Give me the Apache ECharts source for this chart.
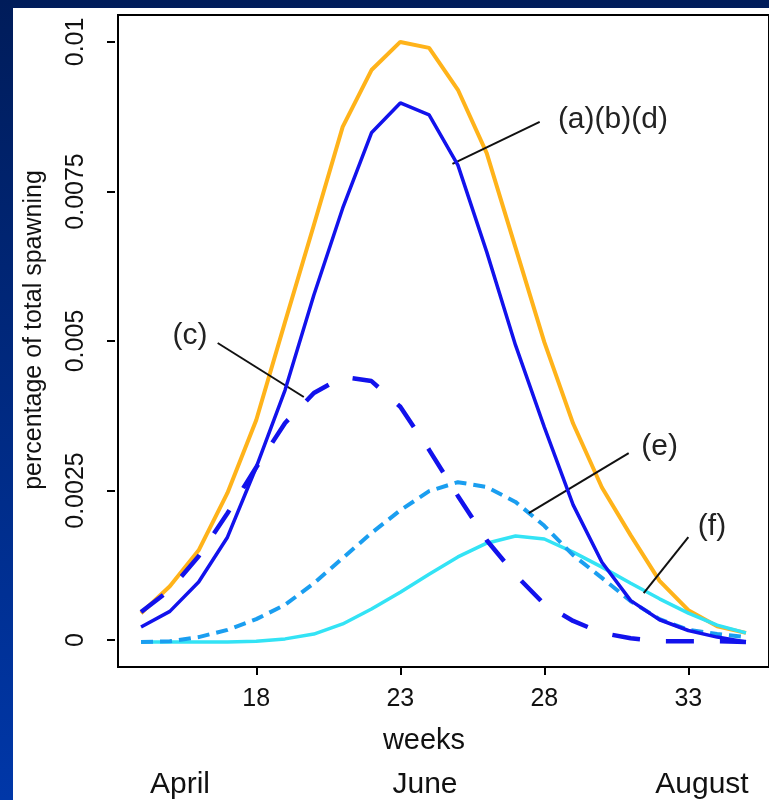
<!DOCTYPE html>
<html>
<head>
<meta charset="utf-8">
<script src="https://cdn.jsdelivr.net/npm/echarts@6/dist/echarts.min.js"></script>
<style>
  html, body { margin: 0; padding: 0; background: #ffffff; }
  #chart { width: 769px; height: 800px; }
</style>
</head>
<body>
<div id="chart"></div>
<script>
// ---- data ----
const weeks = [14, 15, 16, 17, 18, 19, 20, 21, 22, 23, 24, 25, 26, 27, 28, 29, 30, 31, 32, 33, 34, 35];

// orange solid (upper curve)
const orangeTotal = [0.00045, 0.00090, 0.00150, 0.00246, 0.00368, 0.00532, 0.00694, 0.00858, 0.00953, 0.01000, 0.00990, 0.00920,
                     0.00814, 0.00656, 0.00498, 0.00362, 0.00255, 0.00175, 0.00099, 0.00050, 0.00023, 0.00012];
// blue solid (a)(b)(d)
const blueABD = [0.00022, 0.00048, 0.00097, 0.00172, 0.00289, 0.00418, 0.00577, 0.00722, 0.00848, 0.00898, 0.00878, 0.00794,
                 0.00649, 0.00493, 0.00356, 0.00226, 0.00130, 0.00066, 0.00034, 0.00016, 0.00005, -0.00003];
// blue long-dashed (c)
const blueC = [0.00047, 0.00084, 0.00140, 0.00212, 0.00289, 0.00363, 0.00413, 0.00440, 0.00433, 0.00390, 0.00318, 0.00241,
               0.00167, 0.00109, 0.00060, 0.00032, 0.00012, 0.00003, -0.00002, -0.00002, -0.00002, -0.00003];
// light blue dashed (e)
const dashedE = [-0.00003, -0.00002, 0.00005, 0.00017, 0.00035, 0.00059, 0.00095, 0.00137, 0.00179, 0.00217, 0.00249, 0.00264,
                 0.00256, 0.00231, 0.00191, 0.00142, 0.00104, 0.00065, 0.00035, 0.00017, 0.00010, 0.00005];
// cyan solid (f)
const cyanF = [-0.00003, -0.00003, -0.00003, -0.00003, -0.00002, 0.00002, 0.00010, 0.00027, 0.00052, 0.00080, 0.00110, 0.00139,
               0.00162, 0.00174, 0.00169, 0.00147, 0.00122, 0.00095, 0.00069, 0.00045, 0.00025, 0.00012];

const xTickValues = [18, 23, 28, 33];
const yTickValues = [0, 0.0025, 0.005, 0.0075, 0.01];
const yTickLabels = ['0', '0.0025', '0.005', '0.0075', '0.01'];

const yTitle = 'percentage of total spawning';
const xTitle = 'weeks';
const monthLabels = ['April', 'June', 'August'];

// annotation texts
const annotationTexts = ['(a)(b)(d)', '(c)', '(e)', '(f)'];

// ---- layout / style (not data) ----
const annotationLayout = [
  { text: [30.38, 0.00870], line: [[27.84, 0.008662], [24.81, 0.00796]] },
  { text: [15.70, 0.00508], line: [[16.66, 0.004967], [19.65, 0.004064]] },
  { text: [32.00, 0.00323], line: [[30.93, 0.003127], [27.46, 0.002124]] },
  { text: [33.82, 0.00189], line: [[33.00, 0.001722], [31.45, 0.000786]] }
];
const monthPos = [[180, 785], [425, 785], [702, 785]];
const FONT = 'Liberation Sans';

function pairs(vals) { return weeks.map((w, i) => [w, vals[i]]); }

const chart = echarts.init(document.getElementById('chart'), null, { renderer: 'canvas' });

const option = {
  animation: false,
  backgroundColor: {
    type: 'linear', x: 0, y: 0, x2: 0, y2: 1,
    colorStops: [{ offset: 0, color: '#001c5a' }, { offset: 1, color: '#0037a8' }]
  },
  grid: {
    left: 118, top: 15, width: 657, height: 652,
    show: true, borderColor: '#000', borderWidth: 2, backgroundColor: 'transparent'
  },
  xAxis: {
    type: 'value', min: 13.2, max: 35.8,
    axisLine: { show: true, onZero: false, lineStyle: { color: '#000', width: 2 } },
    axisTick: { show: true, length: 8, lineStyle: { color: '#000', width: 2 }, customValues: xTickValues },
    axisLabel: {
      show: true, customValues: xTickValues, margin: 20,
      fontFamily: FONT, fontSize: 25, color: '#111',
      formatter: v => String(v)
    },
    splitLine: { show: false }
  },
  yAxis: {
    type: 'value', min: -0.00045, max: 0.01045, offset: 3,
    axisLine: { show: false },
    axisTick: { show: true, length: 8, lineStyle: { color: '#000', width: 2 }, customValues: yTickValues },
    axisLabel: {
      show: true, customValues: yTickValues, rotate: 90, margin: 26,
      fontFamily: FONT, fontSize: 25, color: '#111',
      formatter: v => { const i = yTickValues.findIndex(t => Math.abs(t - v) < 1e-9); return i >= 0 ? yTickLabels[i] : ''; }
    },
    splitLine: { show: false }
  },
  graphic: [
    { type: 'rect', z: -100, shape: { x: 13, y: 8, width: 760, height: 800 }, style: { fill: '#ffffff' } },
    { type: 'text', x: 34, y: 330, rotation: Math.PI / 2,
      style: { text: yTitle, font: '25px "Liberation Sans"', fill: '#111', textAlign: 'center', textVerticalAlign: 'middle' } },
    { type: 'text', x: 424, y: 741,
      style: { text: xTitle, font: '29px "Liberation Sans"', fill: '#111', textAlign: 'center', textVerticalAlign: 'middle' } }
  ].concat(monthLabels.map((m, i) => ({
    type: 'text', x: monthPos[i][0], y: monthPos[i][1],
    style: { text: m, font: '30px "Liberation Sans"', fill: '#111', textAlign: 'center', textVerticalAlign: 'middle' }
  }))),
  series: [
    { type: 'line', name: 'orange', data: pairs(orangeTotal), showSymbol: false, z: 2,
      lineStyle: { color: '#ffb31a', width: 4 } },
    { type: 'line', name: 'f', data: pairs(cyanF), showSymbol: false, z: 3,
      lineStyle: { color: '#33e3f5', width: 3.5 } },
    { type: 'line', name: 'e', data: pairs(dashedE), showSymbol: false, z: 4,
      lineStyle: { color: '#1a9ef0', width: 4, type: [12, 7] } },
    { type: 'line', name: 'abd', data: pairs(blueABD), showSymbol: false, z: 5,
      lineStyle: { color: '#1212ec', width: 3.5 } },
    { type: 'line', name: 'c', data: pairs(blueC), showSymbol: false, z: 6,
      lineStyle: { color: '#1212ec', width: 4.5, type: [28, 26] } },
    { type: 'line', name: 'annotations', data: [], showSymbol: false, z: 10,
      markLine: {
        silent: true, symbol: ['none', 'none'], animation: false,
        lineStyle: { color: '#111', width: 2, type: 'solid' },
        label: { show: false },
        data: annotationLayout.map(a => [{ coord: a.line[0] }, { coord: a.line[1] }])
      },
      markPoint: {
        silent: true, symbol: 'circle', symbolSize: 1, itemStyle: { color: 'rgba(0,0,0,0)' },
        label: { show: true, position: 'inside', fontFamily: FONT, fontSize: 30, color: '#222',
                 formatter: p => p.name },
        data: annotationLayout.map((a, i) => ({ name: annotationTexts[i], coord: a.text }))
      }
    }
  ]
};

chart.setOption(option);
</script>
</body>
</html>
